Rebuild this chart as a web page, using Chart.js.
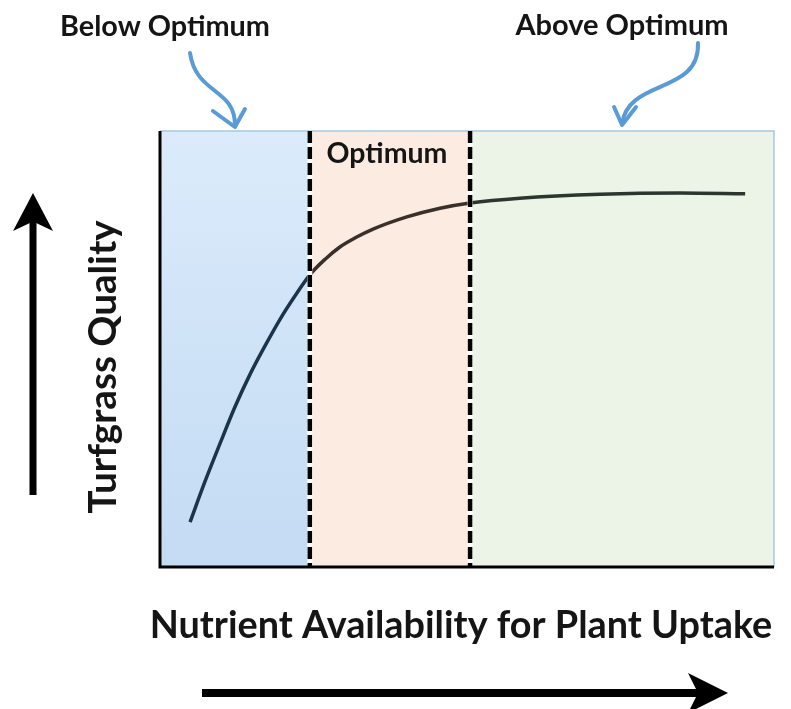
<!DOCTYPE html>
<html>
<head>
<meta charset="utf-8">
<script src="https://cdn.jsdelivr.net/npm/chart.js@4"></script>
<style>
  body { margin: 0; background: #fff; }
  #wrap { width: 791px; height: 709px; }
</style>
</head>
<body>
<div id="wrap"><canvas id="chart" width="791" height="709"></canvas></div>
<script>
// curva de respuesta (escala 0-100)
const nutrient = [4.9, 7.3, 9.8, 12.2, 14.7, 17.1, 19.5, 22.0, 24.4, 26.9, 29.3, 31.8, 34.7, 40.2, 45.6, 50.5, 58.6, 71.7, 84.7, 95.3];
const quality = [10.3, 19.5, 28.4, 36.7, 44.3, 50.7, 56.7, 62.2, 67.0, 70.6, 73.4, 75.5, 77.5, 80.3, 82.3, 83.5, 84.6, 85.5, 85.8, 85.6];

// limites de las zonas
const zoneNames = ['Below Optimum', 'Optimum', 'Above Optimum'];
const zoneStart = [0, 24.4, 50.5];
const zoneEnd = [24.4, 50.5, 100];

const xTitle = 'Nutrient Availability for Plant Uptake';
const yTitle = 'Turfgrass Quality';

const FONT = 'Lato, "Open Sans", sans-serif';

// ajusta el tamaño de letra al ancho que ocupa el texto en la imagen
const fitText = (ctx, text, width) => {
    ctx.font = 'bold 100px ' + FONT;
    const size = 100 * width / ctx.measureText(text).width;
    ctx.font = 'bold ' + size.toFixed(1) + 'px ' + FONT;
};

const arrow = (ctx, x1, y1, x2, y2, w, head, half) => {
    const a = Math.atan2(y2 - y1, x2 - x1);
    const c = Math.cos(a), s = Math.sin(a);
    ctx.save();
    ctx.strokeStyle = '#000';
    ctx.fillStyle = '#000';
    ctx.lineWidth = w;
    ctx.beginPath();
    ctx.moveTo(x1, y1);
    ctx.lineTo(x2 - c * head * 0.6, y2 - s * head * 0.6);
    ctx.stroke();
    ctx.beginPath();
    ctx.moveTo(x2, y2);
    ctx.lineTo(x2 - c * head - s * half, y2 - s * head + c * half);
    ctx.lineTo(x2 - c * head * 0.75, y2 - s * head * 0.75);
    ctx.lineTo(x2 - c * head + s * half, y2 - s * head - c * half);
    ctx.closePath();
    ctx.fill();
    ctx.restore();
};

// flecha azul curva que apunta a una zona
const blueArrow = (ctx, pts, tip, left, right) => {
    ctx.save();
    ctx.strokeStyle = '#5b9bd5';
    ctx.lineWidth = 4;
    ctx.lineCap = 'round';
    ctx.lineJoin = 'round';
    ctx.beginPath();
    ctx.moveTo(pts[0][0], pts[0][1]);
    ctx.bezierCurveTo(pts[1][0], pts[1][1], pts[2][0], pts[2][1], pts[3][0], pts[3][1]);
    ctx.stroke();
    ctx.beginPath();
    ctx.moveTo(left[0], left[1]);
    ctx.lineTo(tip[0], tip[1]);
    ctx.lineTo(right[0], right[1]);
    ctx.stroke();
    ctx.restore();
};

const zonesPlugin = {
    id: 'zones',
    beforeDatasetsDraw(chart) {
        const { ctx, chartArea: a, scales: { x } } = chart;
        const fills = [null, '#fcebe1', '#ecf4e8'];
        ctx.save();
        zoneStart.forEach((s, i) => {
            const x0 = x.getPixelForValue(s);
            const x1 = x.getPixelForValue(zoneEnd[i]);
            if (i === 0) {
                const g = ctx.createLinearGradient(0, a.top, 0, a.bottom);
                g.addColorStop(0, '#dbebfb');
                g.addColorStop(1, '#c3dbf3');
                ctx.fillStyle = g;
            } else {
                ctx.fillStyle = fills[i];
            }
            ctx.fillRect(x0, a.top, x1 - x0, a.bottom - a.top);
        });
        // borde superior y derecho
        ctx.strokeStyle = '#a8c8e2';
        ctx.lineWidth = 1.5;
        ctx.beginPath();
        ctx.moveTo(a.left, a.top);
        ctx.lineTo(a.right, a.top);
        ctx.lineTo(a.right, a.bottom);
        ctx.stroke();
        ctx.restore();
    },
    afterDatasetsDraw(chart) {
        const { ctx, chartArea: a, scales: { x } } = chart;
        ctx.save();
        // lineas discontinuas entre zonas
        [zoneStart[1], zoneStart[2]].forEach(v => {
            const px = x.getPixelForValue(v);
            ctx.strokeStyle = '#fff';
            ctx.lineWidth = 5;
            ctx.setLineDash([]);
            ctx.beginPath();
            ctx.moveTo(px, a.top);
            ctx.lineTo(px, a.bottom);
            ctx.stroke();
            ctx.strokeStyle = '#000';
            ctx.lineWidth = 4.5;
            ctx.setLineDash([12, 4]);
            ctx.beginPath();
            ctx.moveTo(px, a.top);
            ctx.lineTo(px, a.bottom);
            ctx.stroke();
        });
        ctx.setLineDash([]);
        // ejes
        ctx.strokeStyle = '#000';
        ctx.lineWidth = 3;
        ctx.beginPath();
        ctx.moveTo(a.left, a.top);
        ctx.lineTo(a.left, a.bottom);
        ctx.lineTo(a.right, a.bottom);
        ctx.stroke();

        // textos
        ctx.fillStyle = '#151515';
        ctx.textAlign = 'center';
        ctx.textBaseline = 'alphabetic';
        fitText(ctx, zoneNames[0], 210);
        ctx.fillText(zoneNames[0], 165, 36);
        fitText(ctx, zoneNames[2], 213);
        ctx.fillText(zoneNames[2], x.getPixelForValue((zoneStart[2] + zoneEnd[2]) / 2), 35);
        fitText(ctx, zoneNames[1], 121);
        ctx.fillText(zoneNames[1], 387, 163);

        fitText(ctx, xTitle, 622);
        ctx.fillText(xTitle, 461, 638);
        fitText(ctx, yTitle, 293);
        ctx.save();
        ctx.translate(116, 367);
        ctx.rotate(-Math.PI / 2);
        ctx.fillText(yTitle, 0, 0);
        ctx.restore();

        // flechas
        arrow(ctx, 33, 495, 33, 193, 7, 38, 20);
        arrow(ctx, 202, 693, 728, 693, 8, 40, 20);

        const tipB = x.getPixelForValue((zoneStart[0] + zoneEnd[0]) / 2);
        blueArrow(ctx, [[190, 53], [196, 95], [236, 88], [tipB, 126]], [tipB, 127], [tipB - 22, 111], [tipB + 10, 109]);
        const tipA = x.getPixelForValue((zoneStart[2] + zoneEnd[2]) / 2);
        blueArrow(ctx, [[698, 43], [700, 95], [628, 78], [tipA, 124]], [tipA, 125], [tipA - 8, 107], [tipA + 14, 107]);
        ctx.restore();
    }
};

const points = nutrient.map((v, i) => ({ x: v, y: quality[i] }));

new Chart(document.getElementById('chart'), {
    type: 'line',
    data: {
        datasets: [{
            data: points,
            borderWidth: 3.5,
            borderColor: '#2b3336',
            segment: {
                borderColor: c => c.p0.parsed.x < zoneEnd[0] ? '#1c3449' : (c.p0.parsed.x < zoneEnd[1] ? '#3a302b' : '#2c362f')
            },
            pointRadius: 0,
            cubicInterpolationMode: 'monotone',
            fill: false
        }]
    },
    options: {
        responsive: false,
        animation: false,
        layout: { padding: { left: 160, right: 17, top: 131, bottom: 142 } },
        plugins: { legend: { display: false }, tooltip: { enabled: false } },
        scales: {
            x: { type: 'linear', min: 0, max: 100, display: false },
            y: { min: 0, max: 100, display: false }
        }
    },
    plugins: [zonesPlugin]
});
</script>
</body>
</html>
